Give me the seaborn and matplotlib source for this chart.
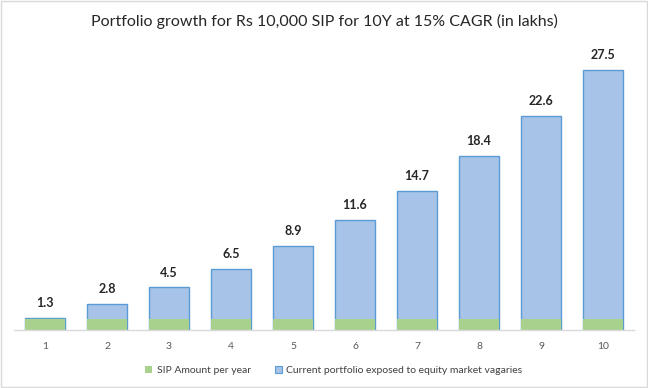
import numpy as np
import pandas as pd
import matplotlib
matplotlib.use('Agg')
import matplotlib.pyplot as plt
import seaborn as sns
from matplotlib.patches import Rectangle, Patch

# Datos del gráfico
years = ['1', '2', '3', '4', '5', '6', '7', '8', '9', '10']
portfolio_total = [1.3, 2.8, 4.5, 6.5, 8.9, 11.6, 14.7, 18.4, 22.6, 27.5]
sip_per_year = [1.2, 1.2, 1.2, 1.2, 1.2, 1.2, 1.2, 1.2, 1.2, 1.2]

df = pd.DataFrame({'year': years, 'total': portfolio_total, 'sip': sip_per_year})

sns.set_style('white')
plt.rcParams['font.family'] = ['Lato', 'DejaVu Sans']

fig = plt.figure(figsize=(6.48, 3.88), dpi=100)
ax = fig.add_axes([0.0216, 0.1495, 0.9568, 0.7305])

blue_face = '#a7c3e8'
blue_edge = '#5b9bd5'
green = '#a9d18e'

# Barra total (azul) y encima la parte del SIP (verde) en la base
sns.barplot(data=df, x='year', y='total', ax=ax, color=blue_face, width=0.66,
            edgecolor=blue_edge, linewidth=1.0, saturation=1)
sns.barplot(data=df, x='year', y='sip', ax=ax, color=green, width=0.66,
            edgecolor='none', linewidth=0, saturation=1)

# Etiquetas de valor
for i, v in enumerate(portfolio_total):
    ax.text(i, v + 0.95, f'{v:.1f}', ha='center', va='bottom', fontsize=9,
            fontweight='bold', color='#262626')

ax.set_ylim(0, 30)
ax.set_xlim(-0.5, 9.5)
ax.set_xlabel('')
ax.set_ylabel('')
ax.set_yticks([])
for s in ['top', 'right', 'left']:
    ax.spines[s].set_visible(False)
ax.spines['bottom'].set_color('#d9d9d9')
ax.spines['bottom'].set_linewidth(1)
ax.tick_params(axis='x', length=0, pad=9, labelsize=7.5, colors='#595959')

fig.text(0.5, 0.945, 'Portfolio growth for Rs 10,000 SIP for 10Y at 15% CAGR (in lakhs)',
         ha='center', va='center', fontsize=11.5, color='#262626')

handles = [Patch(facecolor=green, edgecolor='none'),
           Patch(facecolor=blue_face, edgecolor=blue_edge, linewidth=0.8)]
labels = ['SIP Amount per year', 'Current portfolio exposed to equity market vagaries']
fig.legend(handles, labels, loc='center', bbox_to_anchor=(0.515, 0.045), ncol=2,
           frameon=False, fontsize=7.5, handlelength=0.7, handleheight=0.7,
           columnspacing=2.3, handletextpad=0.4, labelcolor='#404040')

# Borde del gráfico
fig.patches.append(Rectangle((0.002, 0.003), 0.996, 0.994, transform=fig.transFigure,
                             fill=False, edgecolor='#d9d9d9', linewidth=1))

plt.savefig('out.png', dpi=100)
plt.close()
